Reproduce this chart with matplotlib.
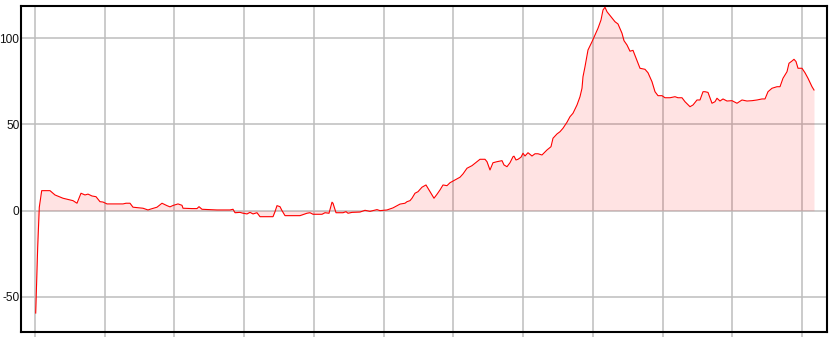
import numpy as np
import matplotlib
matplotlib.use("Agg")
import matplotlib.pyplot as plt
from matplotlib.ticker import MultipleLocator

plt.rcParams['font.family'] = ['Liberation Sans', 'DejaVu Sans']

days = [0.7, 2.7, 4.3, 6.7, 15, 20, 28, 38, 42, 46, 50, 53, 57, 61, 65, 68, 72, 88, 91, 95, 98,
        108, 113, 115, 122, 127, 132, 135, 138, 143, 147, 148, 157, 162, 164, 167, 182, 195, 198,
        200, 205, 208, 212, 215, 218, 222, 225, 238, 240, 242, 245, 247, 250, 258, 265, 272, 275,
        278, 287, 290, 294, 297, 298, 301, 308, 311, 313, 317, 325, 330, 335, 342, 345, 352, 358,
        365, 370, 372, 375, 377, 380, 383, 387, 391, 393, 397, 399, 402, 405, 408, 412, 415, 420,
        425, 428, 432, 437, 440, 445, 450, 452, 455, 458, 462, 467, 469, 472, 475, 478, 479, 481,
        483, 486, 488, 490, 493, 497, 500, 503, 507, 512, 516, 518, 522, 525, 528, 532, 535, 538,
        542, 545, 547, 548, 550, 553, 557, 560, 563, 566, 568, 570, 572, 576, 580, 583, 587, 589,
        592, 595, 598, 602, 605, 610, 613, 617, 620, 623, 627, 630, 635, 640, 643, 647, 650, 655,
        658, 662, 665, 668, 670, 673, 677, 680, 682, 685, 688, 692, 697, 702, 707, 712, 717, 722,
        727, 730, 733, 737, 742, 745, 748, 752, 754, 757, 759, 761, 763, 767, 770, 773, 777, 779]
values = [-59.4, -21, 2, 11.6, 11.6, 9.1, 7.2, 5.8, 4.3, 10.1, 9.1, 9.6, 8.5, 8.1, 5.2, 5.0, 3.9,
          3.9, 4.3, 4.3, 2.0, 1.4, 0.4, 0.8, 2.0, 4.3, 2.9, 2.2, 3.0, 3.9, 3.1, 1.4, 1.2, 1.2, 2.3,
          0.8, 0.4, 0.4, 0.8, -1.2, -1.0, -1.5, -1.9, -1.0, -1.9, -1.2, -3.5, -3.5, -0.6, 2.9, 2.3,
          0.0, -2.9, -2.9, -2.9, -1.5, -1.2, -2.1, -2.1, -1.2, -1.5, 4.9, 4.3, -1.2, -1.2, -0.6,
          -1.5, -1.0, -0.8, 0.2, -0.4, 0.6, 0.0, 0.4, 1.6, 3.8, 4.3, 5.2, 5.8, 7.2, 10.1, 11.0,
          13.6, 14.9, 13.0, 9.1, 7.2, 9.5, 12.0, 14.9, 14.5, 16.2, 17.8, 19.4, 21.3, 24.6, 26.1,
          27.5, 29.8, 29.8, 28.4, 23.6, 27.8, 28.4, 29.0, 26.5, 25.5, 27.8, 31.3, 31.6, 29.4, 29.8,
          31.0, 33.3, 31.7, 33.6, 31.7, 33.0, 33.0, 32.3, 35.2, 37.1, 42.0, 44.5, 45.8, 47.8, 51.3,
          54.5, 56.5, 61.3, 66.1, 71.0, 77.7, 83.5, 93.2, 98.0, 101.9, 105.8, 110.6, 116.4, 118.0,
          115.4, 112.5, 109.6, 108.3, 102.9, 98.6, 96.1, 92.5, 93.0, 87.0, 82.6, 82.0, 80.0, 74.8,
          69.0, 66.7, 66.7, 65.5, 65.5, 66.1, 65.5, 65.5, 63.2, 60.3, 61.3, 64.2, 64.2, 69.0, 69.0,
          68.6, 62.3, 63.2, 65.2, 63.6, 64.8, 63.6, 63.8, 62.3, 64.2, 63.6, 63.8, 64.2, 64.8, 64.8,
          69.0, 71.0, 71.9, 71.9, 76.8, 80.6, 85.5, 86.8, 87.8, 86.5, 82.6, 82.6, 80.0, 76.8, 71.9,
          70.0]
y_ticks = [-50, 0, 50, 100]

x = np.array(days)
y = np.array(values)

fig = plt.figure(figsize=(8.37, 3.37), dpi=100)
ax = fig.add_axes([21 / 837, 5 / 337, 806.5 / 837, 326.3 / 337])

ax.fill_between(x, y, 0, color='#ff0000', alpha=0.11, linewidth=0, zorder=2)
ax.plot(x, y, color='#ff0000', linewidth=0.8, zorder=3)

ax.set_xlim(-14, 792.5)
ax.set_ylim(-70.4, 118.9)
ax.xaxis.set_major_locator(MultipleLocator(69.75))
ax.set_yticks(y_ticks)
ax.set_yticklabels([str(v) for v in y_ticks])
ax.set_axisbelow(True)
ax.grid(True, color='#bdbdbd', linewidth=1.1)

ax.tick_params(axis='x', length=6, width=1.1, color='#bdbdbd', labelbottom=False)
ax.tick_params(axis='y', length=0, pad=1.2, labelsize=8.6, labelcolor='#111111')
for s in ax.spines.values():
    s.set_linewidth(1.5)
    s.set_color('black')

fig.savefig('out.png', dpi=100)
